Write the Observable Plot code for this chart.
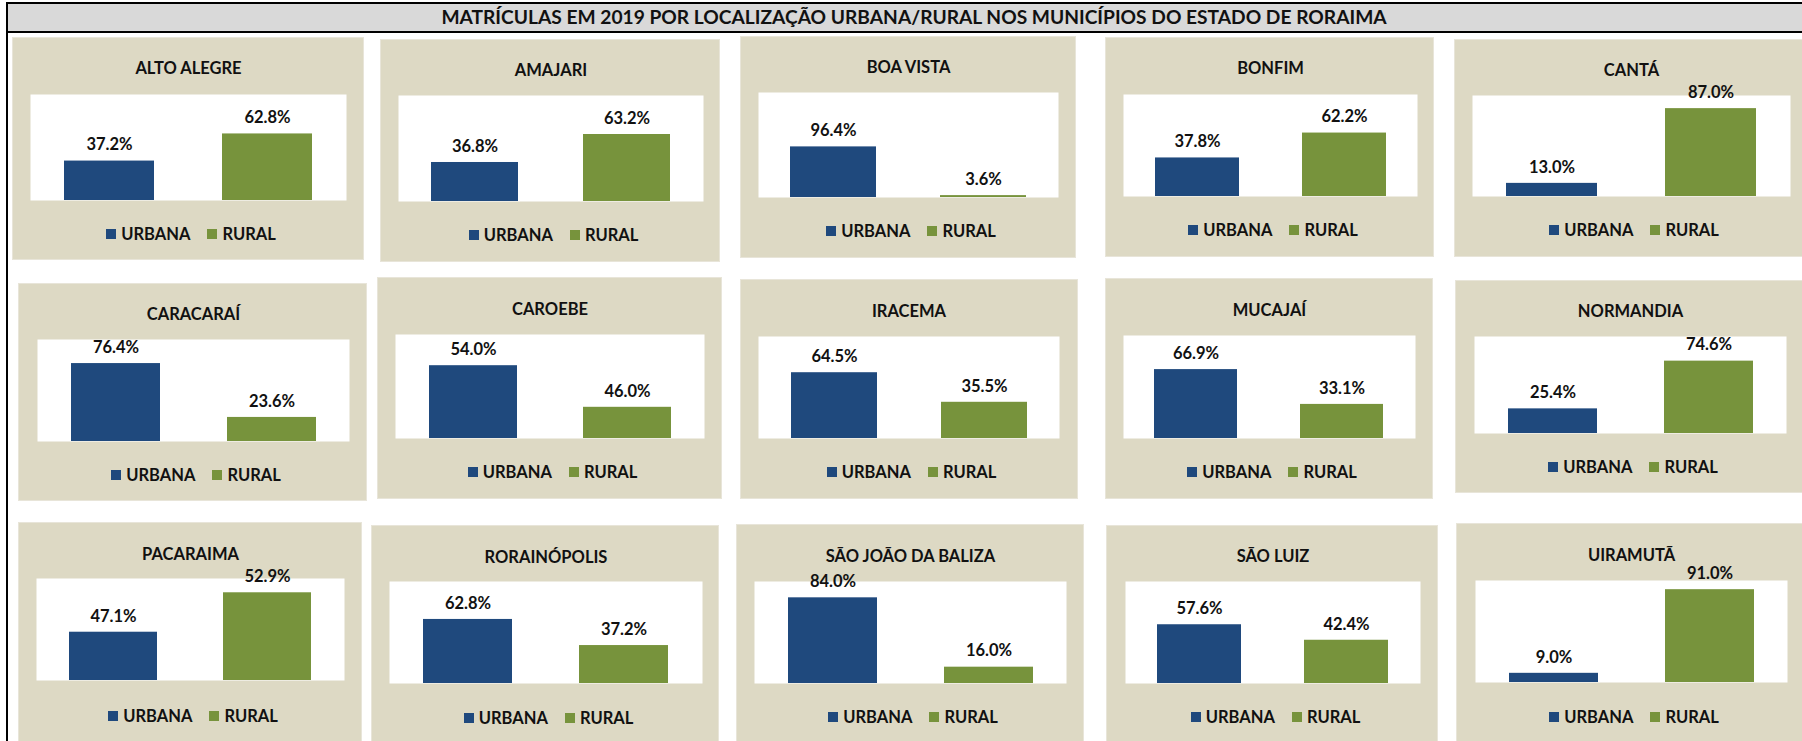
<!DOCTYPE html>
<html>
<head>
<meta charset="utf-8">
<script src="https://cdn.jsdelivr.net/npm/d3@7"></script>
<script src="https://cdn.jsdelivr.net/npm/@observablehq/plot@0.6"></script>
<style>
  html, body { margin: 0; padding: 0; background: #fff; }
  #wrap { position: relative; width: 1802px; height: 741px; overflow: hidden; background: #fff; font-family: Lato, "Open Sans", sans-serif; color: #111; }
  #borda { position: absolute; left: 6px; top: 2px; width: 2px; height: 760px; background: #000; }
  #faixa { position: absolute; left: 6px; top: 2px; width: 1800px; height: 27px; background: #d9d9d9; border-top: 2px solid #000; border-bottom: 2px solid #000; }
  #titulo { position: absolute; top: 5px; left: 914px; transform: translateX(-50%); white-space: nowrap; font-family: Lato, sans-serif; font-weight: 700; font-size: 19.2px; line-height: 24px; color: #111; }
  .panel { position: absolute; background: #ddd9c4; box-shadow: inset 0 0 0 1px #e8e5d9; }
  .panel svg { display: block; }
  .leg { position: absolute; height: 20px; display: flex; justify-content: center; box-sizing: border-box; padding-left: 6px; }
  .leg > div { display: flex !important; align-items: center; font-family: Lato, sans-serif !important; font-weight: 700 !important; font-size: 16.5px !important; line-height: 20px; color: #111; justify-content: center; margin: 0 !important; min-height: 20px !important; }
  .leg span { display: inline-flex !important; align-items: center; margin-right: 17px !important; }
  .leg span:last-child { margin-right: 0 !important; }
  .leg span > svg { margin-right: 5px !important; }
</style>
</head>
<body>
<div id="wrap">
  <div id="faixa"></div>
  <div id="borda"></div>
  <div id="titulo"></div>
</div>
<script>
// ---- data ----
const titulo = "MATRÍCULAS EM 2019 POR LOCALIZAÇÃO URBANA/RURAL NOS MUNICÍPIOS DO ESTADO DE RORAIMA";
const municipios = ["ALTO ALEGRE", "AMAJARI", "BOA VISTA", "BONFIM", "CANTÁ",
  "CARACARAÍ", "CAROEBE", "IRACEMA", "MUCAJAÍ", "NORMANDIA",
  "PACARAIMA", "RORAINÓPOLIS", "SÃO JOÃO DA BALIZA", "SÃO LUIZ", "UIRAMUTÃ"];
const localizacoes = ["URBANA", "RURAL"];
const urbana = [37.2, 36.8, 96.4, 37.8, 13.0, 76.4, 54.0, 64.5, 66.9, 25.4, 47.1, 62.8, 84.0, 57.6, 9.0];
const rural  = [62.8, 63.2, 3.6, 62.2, 87.0, 23.6, 46.0, 35.5, 33.1, 74.6, 52.9, 37.2, 16.0, 42.4, 91.0];
// value-axis bounds of each small chart (as seen in the picture)
const eixoMin = [0, 0, 0, 0, 0, 0, 40, 0, 0, 0, 40, 0, 0, 0, 0];
const eixoMax = [100, 100, 200, 100, 100, 100, 60, 100, 100, 100, 55, 100, 100, 100, 100];

// ---- layout (pixels): panel box, plot-area box, title y, legend y ----
const layout = [
  [12, 37, 364, 260,   30, 94, 346, 200,   61, 234],
  [380, 39, 720, 262,  398, 95, 703, 201,  63, 235],
  [740, 36, 1076, 258, 758, 92, 1058, 197, 60, 231],
  [1105, 37, 1434, 257, 1123, 94, 1417, 196, 61, 230],
  [1454, 39, 1812, 257, 1472, 95, 1790, 196, 63, 230],
  [18, 283, 367, 501,  37, 339, 349, 441,  307, 475],
  [377, 277, 722, 499, 395, 334, 704, 438, 302, 472],
  [740, 279, 1078, 499, 758, 336, 1059, 438, 304, 472],
  [1105, 278, 1433, 499, 1123, 335, 1415, 438, 303, 472],
  [1455, 280, 1812, 493, 1474, 336, 1786, 433, 304, 467],
  [18, 522, 362, 748,  36, 578, 344, 680,  547, 716],
  [371, 525, 719, 748, 389, 581, 702, 683, 550, 718],
  [736, 524, 1084, 748, 754, 581, 1066, 683, 549, 717],
  [1106, 525, 1438, 748, 1125, 581, 1420, 683, 549, 717],
  [1456, 523, 1812, 748, 1475, 580, 1787, 682, 548, 717]
];
const cores = ["#1F497D", "#77933C"];

document.getElementById("titulo").textContent = titulo;
const wrap = document.getElementById("wrap");

municipios.forEach((nome, i) => {
  const [pl, pt, pr, pb, al, at, ar, ab, ty, ly] = layout[i];
  const rows = localizacoes.map((loc, j) => ({loc, value: j === 0 ? urbana[i] : rural[i]}));
  const div = document.createElement("div");
  div.className = "panel";
  Object.assign(div.style, {left: pl + "px", top: pt + "px", width: (pr - pl) + "px", height: (pb - pt) + "px"});
  const chart = Plot.plot({
    width: pr - pl,
    height: pb - pt,
    marginLeft: al - pl,
    marginRight: pr - ar,
    marginTop: at - pt,
    marginBottom: pb - ab,
    x: {domain: localizacoes, paddingInner: 0.43, paddingOuter: 0.215, axis: null},
    y: {domain: [eixoMin[i], eixoMax[i]], axis: null},
    color: {domain: localizacoes, range: cores},
    style: {background: "transparent", fontFamily: "Lato, sans-serif", color: "#111", overflow: "visible"},
    marks: [
      Plot.frame({fill: "white", stroke: "none"}),
      Plot.barY(rows, {x: "loc", y1: eixoMin[i], y2: "value", fill: "loc"}),
      Plot.text(rows, {x: "loc", y: "value", text: d => d.value.toFixed(1) + "%", dy: -16,
        fontSize: 16.5, fontWeight: "bold", fill: "#111"}),
      Plot.text([nome], {frameAnchor: "top", text: d => d, dy: ty - at + 0.6,
        fontSize: 16.5, fontWeight: "bold", fill: "#111"})
    ]
  });
  div.appendChild(chart);
  const lw = document.createElement("div");
  lw.className = "leg";
  Object.assign(lw.style, {left: (al - pl) + "px", width: (ar - al) + "px", top: (ly - pt - 10) + "px"});
  lw.appendChild(Plot.legend({color: {domain: localizacoes, range: cores}, swatchSize: 10, className: "legsw"}));
  div.appendChild(lw);
  wrap.appendChild(div);
});
</script>
</body>
</html>
